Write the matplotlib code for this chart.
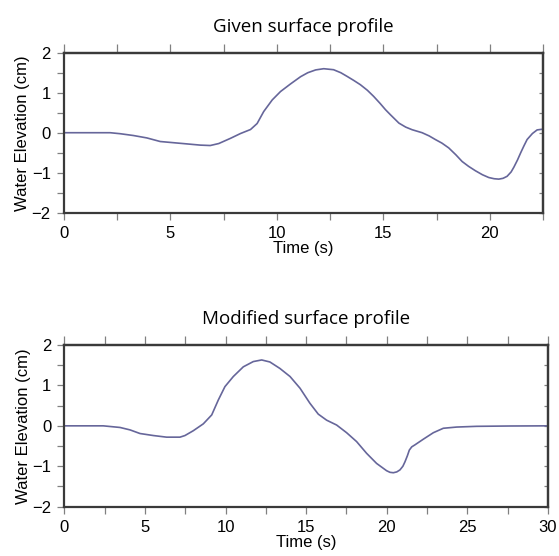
import matplotlib
matplotlib.use('Agg')
import matplotlib.pyplot as plt
from matplotlib.ticker import MultipleLocator

# values
given_t = [0.0, 1.0, 2.17, 2.64, 3.26, 3.89, 4.52, 5.15, 5.78, 6.4, 6.87, 7.27,
           7.82, 8.29, 8.76, 9.07, 9.38, 9.78, 10.17, 10.64, 11.11, 11.45, 11.82,
           12.2, 12.66, 13.0, 13.29, 13.6, 13.92, 14.25, 14.54, 14.85, 15.1,
           15.33, 15.73, 16.05, 16.35, 16.82, 17.15, 17.44, 17.75, 18.07, 18.4,
           18.7, 19.0, 19.32, 19.65, 19.95, 20.2, 20.42, 20.62, 20.81, 21.0,
           21.13, 21.3, 21.45, 21.6, 21.75, 22.0, 22.22, 22.5]
given_eta = [0.0, 0.0, 0.0, -0.025, -0.07, -0.13, -0.22, -0.25, -0.28, -0.31,
             -0.32, -0.27, -0.14, -0.02, 0.08, 0.23, 0.53, 0.82, 1.03, 1.22, 1.4,
             1.5, 1.57, 1.6, 1.575, 1.5, 1.41, 1.31, 1.2, 1.06, 0.91, 0.73, 0.575,
             0.45, 0.24, 0.14, 0.075, 0.0, -0.08, -0.17, -0.26, -0.38, -0.55,
             -0.72, -0.84, -0.95, -1.05, -1.12, -1.15, -1.16, -1.14, -1.09,
             -0.98, -0.86, -0.68, -0.5, -0.33, -0.17, -0.02, 0.07, 0.09]

modified_t = [0.0, 1.0, 2.41, 3.45, 4.07, 4.69, 5.52, 6.34, 7.17, 7.48, 8.0, 8.62,
              9.14, 9.55, 9.96, 10.48, 11.1, 11.72, 12.24, 12.75, 13.37, 14.0,
              14.62, 15.23, 15.75, 16.27, 16.89, 17.51, 18.13, 18.75, 19.37,
              19.99, 20.2, 20.41, 20.62, 20.82, 21.0, 21.13, 21.28, 21.4, 21.55,
              21.75, 22.27, 22.89, 23.51, 24.34, 25.58, 27.64, 30.0]
modified_eta = [0.0, 0.0, 0.0, -0.04, -0.1, -0.19, -0.24, -0.28, -0.28, -0.24,
                -0.12, 0.05, 0.27, 0.64, 0.97, 1.22, 1.46, 1.59, 1.63, 1.58, 1.42,
                1.22, 0.93, 0.56, 0.29, 0.14, 0.02, -0.17, -0.39, -0.68, -0.93,
                -1.11, -1.15, -1.16, -1.14, -1.09, -1.0, -0.89, -0.74, -0.6,
                -0.52, -0.47, -0.33, -0.17, -0.06, -0.03, -0.012, -0.004, 0.0]

titles = ['Given surface profile', 'Modified surface profile']
xlims = [22.5, 30]

line_color = '#66669a'
frame_color = '#3a3a3a'
tick_color = '#808080'


def style_axes(ax, xmax, title):
    ax.set_xlim(0, xmax)
    ax.set_ylim(-2, 2)
    ax.xaxis.set_major_locator(MultipleLocator(5))
    ax.xaxis.set_minor_locator(MultipleLocator(2.5))
    ax.yaxis.set_major_locator(MultipleLocator(1))
    ax.yaxis.set_minor_locator(MultipleLocator(0.5))
    ax.tick_params(which='both', direction='out', length=5, width=0.9,
                   color=tick_color, top=False, right=False, labelsize=12,
                   pad=4.5)
    for s in ax.spines.values():
        s.set_color(frame_color)
        s.set_linewidth(1.6)
    # top ticks outward (a bit longer), right ticks inward
    secx = ax.secondary_xaxis('top')
    secx.xaxis.set_major_locator(MultipleLocator(2.5))
    secx.tick_params(direction='out', length=6.5, width=0.9, color=tick_color,
                     labeltop=False)
    secx.spines['top'].set_color(frame_color)
    secx.spines['top'].set_linewidth(1.6)
    secy = ax.secondary_yaxis('right')
    secy.yaxis.set_major_locator(MultipleLocator(0.5))
    secy.tick_params(direction='in', length=3, width=0.9, color=tick_color,
                     labelright=False)
    secy.spines['right'].set_color(frame_color)
    secy.spines['right'].set_linewidth(1.6)
    ax.set_xlabel('Time (s)', fontsize=12, labelpad=0)
    ax.set_ylabel('Water Elevation (cm)', fontsize=12, labelpad=1)
    ax.set_title(title, fontsize=13.5, family='Open Sans', pad=15)


plt.rcParams['font.family'] = ['Liberation Sans', 'DejaVu Sans']

fig = plt.figure(figsize=(5.59, 5.56), dpi=100)
ax1 = fig.add_axes([0.1145, 0.6174, 0.857, 0.2878])
ax2 = fig.add_axes([0.1152, 0.0887, 0.865, 0.2908])

ax1.plot(given_t, given_eta, color=line_color, lw=1.2)
ax2.plot(modified_t, modified_eta, color=line_color, lw=1.2)

style_axes(ax1, xlims[0], titles[0])
style_axes(ax2, xlims[1], titles[1])

fig.savefig('out.png', dpi=100)
